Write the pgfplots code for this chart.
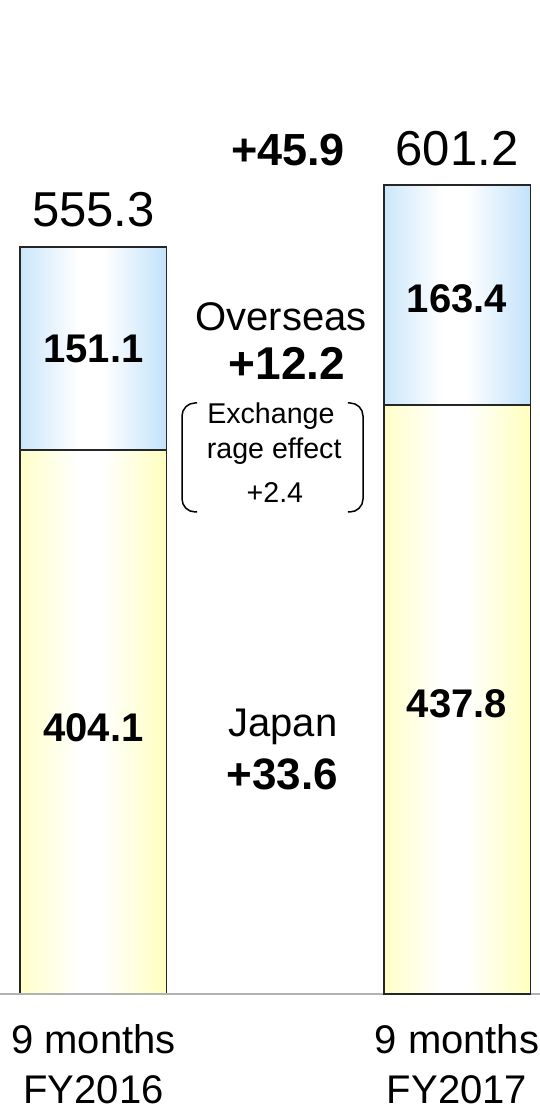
\documentclass[border=0pt]{standalone}
\usepackage{pgfplots}
\pgfplotsset{compat=1.18}
\usepackage{fontspec}
\setmainfont{Liberation Sans}
\definecolor{bluec}{RGB}{194,226,250}
\definecolor{yellowc}{RGB}{255,255,190}
\pgfdeclarehorizontalshading{blueshade}{100bp}{color(0bp)=(bluec); color(25bp)=(bluec!85); color(45bp)=(white); color(53bp)=(white); color(75bp)=(bluec); color(100bp)=(bluec)}
\pgfdeclarehorizontalshading{yellowshade}{100bp}{color(0bp)=(yellowc); color(25bp)=(yellowc!85); color(45bp)=(white); color(53bp)=(white); color(75bp)=(yellowc); color(100bp)=(yellowc)}
\pgfplotsset{
  common/.style={
    scale only axis,
    width=270pt, height=497pt,
    xmin=-0.2572, xmax=1.2283,
    ymin=0, ymax=738.65,
    ybar stacked,
    bar width=73.25pt,
    clip=false,
  },
  barJ/.style={draw=black!85, line width=0.75pt, shading=yellowshade},
  barO/.style={draw=black!85, line width=0.75pt, shading=blueshade},
}
\begin{document}
\begin{tikzpicture}
% left column (own axis so the shading spans this bar only)
\begin{axis}[common, axis lines=none]
\addplot[barJ] coordinates {(0,404.1)};
\addplot[barO] coordinates {(0,151.1)};
\end{axis}
% right column, axis line, tick labels
\begin{axis}[common,
  separate axis lines,
  axis x line*=bottom,
  axis y line=none,
  x axis line style={draw=black!30, line width=0.75pt},
  xtick={0,1},
  xticklabels={{9 months\\FY2016},{9 months\\FY2017}},
  xticklabel style={align=center, font=\fontsize{20}{25}\selectfont, yshift=-11.5pt},
  major tick length=0pt,
  ytick=\empty,
]
\addplot[barJ] coordinates {(1,437.8)};
\addplot[barO] coordinates {(1,163.4)};
\end{axis}
% text layer
\begin{axis}[common, axis lines=none]
% totals
\node[anchor=base, font=\fontsize{24.5}{28}\selectfont] at (axis cs:0,570.0) {555.3};
\node[anchor=base, font=\fontsize{24.5}{28}\selectfont] at (axis cs:1,616.0) {601.2};
% segment values
\node[anchor=base, font=\fontsize{20}{24}\selectfont\bfseries] at (axis cs:0,468.9) {151.1};
\node[anchor=base, font=\fontsize{20}{24}\selectfont\bfseries] at (axis cs:1,506.1) {163.4};
\node[anchor=base, font=\fontsize{20}{24}\selectfont\bfseries] at (axis cs:0,187.3) {404.1};
\node[anchor=base, font=\fontsize{20}{24}\selectfont\bfseries] at (axis cs:1,205.8) {437.8};
% middle annotations
\node[anchor=base, font=\fontsize{22.5}{26}\selectfont\bfseries] at (axis cs:0.535,616.0) {+45.9};
\node[anchor=base, font=\fontsize{20}{24}\selectfont] at (axis cs:0.516,493.4) {Overseas};
\node[anchor=base, font=\fontsize{23}{26}\selectfont\bfseries] at (axis cs:0.532,457.0) {+12.2};
\node[anchor=base, font=\fontsize{14.3}{17}\selectfont] at (axis cs:0.488,424.3) {Exchange};
\node[anchor=base, font=\fontsize{14.3}{17}\selectfont] at (axis cs:0.497,398.3) {rage effect};
\node[anchor=base, font=\fontsize{14.3}{17}\selectfont] at (axis cs:0.499,365.6) {+2.4};
\node[anchor=base, font=\fontsize{20}{24}\selectfont] at (axis cs:0.521,191.7) {Japan};
\node[anchor=base, font=\fontsize{22}{26}\selectfont\bfseries] at (axis cs:0.519,151.6) {+33.6};
% brackets
\draw[line width=0.75pt, rounded corners=6.5pt] (axis cs:0.285,439.2) -- (axis cs:0.2435,439.2) -- (axis cs:0.2435,358.2) -- (axis cs:0.285,358.2);
\draw[line width=0.75pt, rounded corners=6.5pt] (axis cs:0.700,439.2) -- (axis cs:0.7414,439.2) -- (axis cs:0.7414,358.2) -- (axis cs:0.700,358.2);
\end{axis}
\pgfresetboundingbox
\path (current axis.south west) ++(0,-58.5pt) rectangle (current axis.north east);
\end{tikzpicture}
\end{document}
